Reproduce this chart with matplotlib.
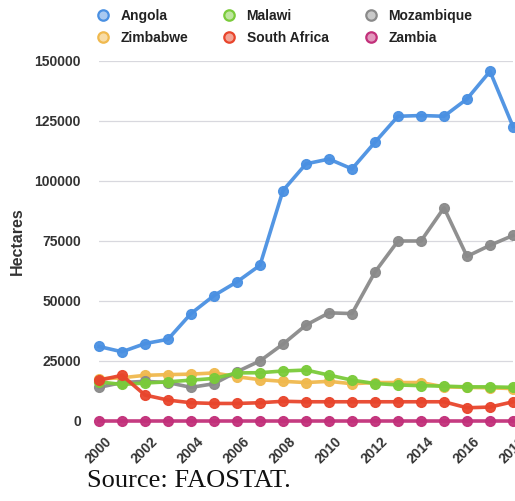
import matplotlib
matplotlib.use("Agg")
import matplotlib.pyplot as plt
from matplotlib.lines import Line2D

years = list(range(2000, 2019))

angola = [31000, 28800, 32200, 34000, 44700, 52200, 57900, 64800, 95900, 107000,
          109000, 104900, 116000, 126800, 127100, 126800, 134000, 145500, 122500]
malawi = [16300, 15200, 15800, 16300, 17000, 17700, 20000, 20100, 20800, 21200,
          19100, 17000, 15600, 15000, 14700, 14500, 14200, 14200, 14000]
mozambique = [14000, 16000, 16500, 16000, 14000, 15500, 20500, 25000, 32000, 39900,
              45000, 44700, 62000, 74900, 74900, 88700, 68500, 73100, 77200]
zimbabwe = [17500, 18000, 19000, 19300, 19500, 20000, 18400, 17200, 16500, 16000,
            16500, 15500, 16000, 16000, 16000, 14200, 14000, 13800, 13500]
south_africa = [17000, 19000, 10800, 8700, 7600, 7300, 7300, 7600, 8200, 8000,
                8000, 8000, 8000, 8000, 8000, 8000, 5500, 5800, 8000]
zambia = [200, 200, 200, 200, 200, 200, 200, 200, 200, 200,
          200, 200, 200, 200, 200, 200, 200, 200, 200]

yticks = [0, 25000, 50000, 75000, 100000, 125000, 150000]
xticks = list(range(2000, 2019, 2))

series = [
    ("Angola", angola, "#4a90e2", "#a9c9f0"),
    ("Zimbabwe", zimbabwe, "#f0b94e", "#f8dca6"),
    ("Mozambique", mozambique, "#8a8a8a", "#c9c9c9"),
    ("Malawi", malawi, "#7acb3a", "#bfe5a0"),
    ("South Africa", south_africa, "#e8452c", "#f3a496"),
    ("Zambia", zambia, "#c2307a", "#e298bd"),
]

fig = plt.figure(figsize=(5.15, 5.01), dpi=100)
ax = fig.add_axes([99 / 515, 80 / 501, 414 / 515, 360.5 / 501])

for name, vals, col, light in series:
    ax.plot(years, vals, color=col, lw=2.6, marker="o", ms=7, mfc=col, mec=col,
            clip_on=False, zorder=3, alpha=0.95)

ax.set_xlim(2000, 2018)
ax.set_ylim(0, 150000)
ax.set_yticks(yticks)
ax.set_yticklabels([str(v) for v in yticks])
ax.set_xticks(xticks)
ax.set_xticklabels([str(v) for v in xticks], rotation=45, ha="center")
ax.grid(axis="y", color="#d8d8de", lw=0.9)
ax.grid(axis="x", visible=False)
ax.set_axisbelow(True)
for s in ax.spines.values():
    s.set_visible(False)
ax.tick_params(axis="y", length=0, pad=13, labelsize=10, labelcolor="#333333")
ax.tick_params(axis="x", length=0, pad=10, labelsize=10, labelcolor="#333333")
for lab in ax.get_xticklabels() + ax.get_yticklabels():
    lab.set_family("Liberation Sans")
    lab.set_fontweight("bold")
ax.set_ylabel("Hectares", family="Liberation Sans", fontweight="bold",
              fontsize=11.5, color="#333333")
ax.yaxis.set_label_coords(-0.178, 0.5)

# legend: three columns placed separately
cols = {name: (col, light) for name, _, col, light in series}
legend_cols = [(["Angola", "Zimbabwe"], 97), (["Malawi", "South Africa"], 223),
               (["Mozambique", "Zambia"], 365)]
for names, xpix in legend_cols:
    handles = [Line2D([], [], ls="none", marker="o", ms=7.5, mfc=cols[n][1],
                      mec=cols[n][0], mew=1.6) for n in names]
    leg = fig.legend(handles, names, loc="upper left",
                     bbox_to_anchor=(xpix / 515, 1 - 9 / 501), frameon=False,
                     handlelength=0.9, handletextpad=0.8, labelspacing=0.55,
                     borderpad=0, borderaxespad=0,
                     prop={"family": "Liberation Sans", "weight": "bold", "size": 10})
    for t in leg.get_texts():
        t.set_color("#222222")

fig.text(87 / 515, 1 - 481 / 501, "Source: FAOSTAT.", family="Liberation Serif",
         fontsize=19, va="center", ha="left", color="#111111")

fig.savefig("out.png", dpi=100)
